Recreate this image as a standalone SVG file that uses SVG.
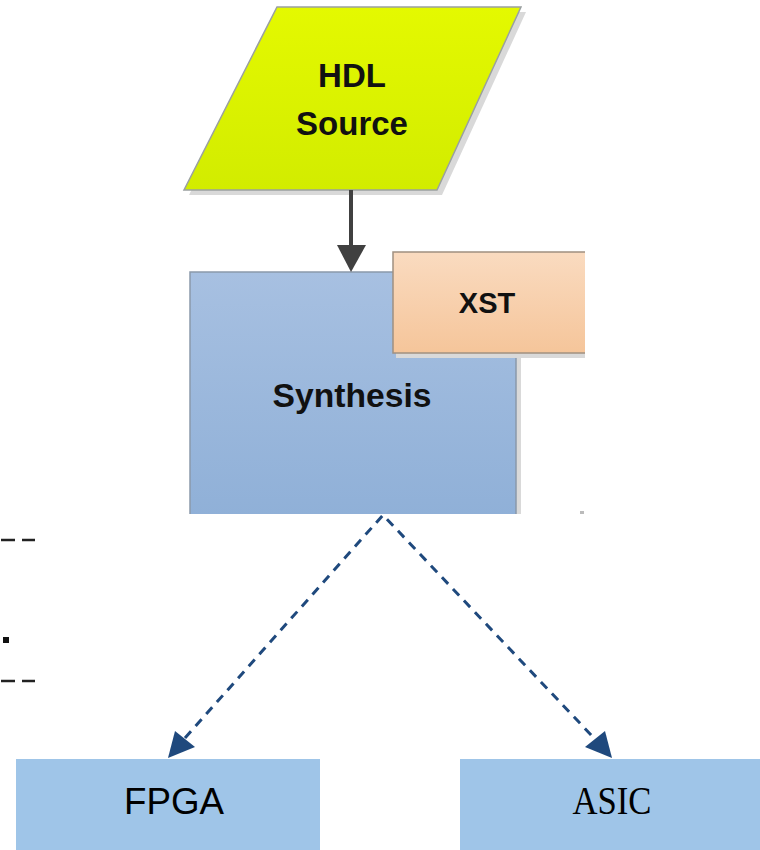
<svg xmlns="http://www.w3.org/2000/svg" width="760" height="850" viewBox="0 0 760 850">
<defs>
<linearGradient id="gY" x1="0" y1="0" x2="0" y2="1"><stop offset="0" stop-color="#e4f900"/><stop offset="1" stop-color="#d2ec00"/></linearGradient>
<linearGradient id="gB" x1="0" y1="0" x2="0" y2="1"><stop offset="0" stop-color="#a7c0e1"/><stop offset="1" stop-color="#8eafd7"/></linearGradient>
<linearGradient id="gO" x1="0" y1="0" x2="0" y2="1"><stop offset="0" stop-color="#fadbc0"/><stop offset="1" stop-color="#f5c59a"/></linearGradient>
<clipPath id="crop"><rect x="0" y="0" width="585" height="514"/></clipPath>
<style>
.lbl{font-family:"Liberation Sans",Arial,sans-serif;font-weight:bold;fill:#111;text-anchor:middle}
.shadow{fill:#d9d9d9}
.dash{stroke:#1f497d;stroke-width:3;stroke-dasharray:9 7;fill:none}
.art{stroke:#222;stroke-width:2.5}
</style>
</defs>
<g id="artifacts">
<line class="art" x1="1" y1="540" x2="15" y2="540"/><line class="art" x1="22" y1="540" x2="35" y2="540"/>
<rect x="3" y="637" width="6" height="6" fill="#111"/>
<line class="art" x1="1" y1="681" x2="15" y2="681"/><line class="art" x1="22" y1="681" x2="35" y2="681"/>
<rect x="580" y="511" width="4" height="3" fill="#bbb"/>
</g>
<g clip-path="url(#crop)">
<g id="hdl">
<polygon class="shadow" points="281,12 526,12 442,195 189,195"/>
<polygon points="277,7 521,7 437,190 184,190" fill="url(#gY)" stroke="#9aa0a0" stroke-width="1.5"/>
<text class="lbl" x="352" y="87" font-size="33">HDL</text>
<text class="lbl" x="352" y="135" font-size="33">Source</text>
</g>
<g id="synthesis">
<rect x="194" y="276" width="327" height="260" class="shadow"/>
<rect x="190" y="272" width="326" height="260" fill="url(#gB)" stroke="#8a99aa" stroke-width="1.5"/>
<text class="lbl" x="352" y="407" font-size="33" textLength="159" lengthAdjust="spacingAndGlyphs">Synthesis</text>
</g>
<g id="xst">
<rect x="396" y="256" width="220" height="102" class="shadow"/>
<rect x="393" y="252" width="220" height="101" fill="url(#gO)" stroke="#a09080" stroke-width="1.5"/>
<text class="lbl" x="487" y="313" font-size="29">XST</text>
</g>
</g>
<g id="fpga">
<rect x="16" y="759" width="304" height="91" fill="#9fc5e8"/>
<text x="174" y="814" font-family="Liberation Sans,Arial,sans-serif" font-size="37" fill="#000" text-anchor="middle" textLength="100" lengthAdjust="spacingAndGlyphs">FPGA</text>
</g>
<g id="asic">
<rect x="460" y="759" width="300" height="91" fill="#9fc5e8"/>
<text x="612" y="814" font-family="Liberation Serif,Times New Roman,serif" font-size="40" fill="#000" text-anchor="middle" textLength="79" lengthAdjust="spacingAndGlyphs">ASIC</text>
</g>
<g id="connectors">
<line x1="351" y1="190" x2="351" y2="250" stroke="#404040" stroke-width="4"/>
<polygon points="337,245 366,245 351,272" fill="#404040"/>
<polyline class="dash" points="185,738 383,515 593,737"/>
<polygon points="168,758 175,731 195,747" fill="#1f497d"/>
<polygon points="612,758 605,731 585,747" fill="#1f497d"/>
</g>
</svg>
